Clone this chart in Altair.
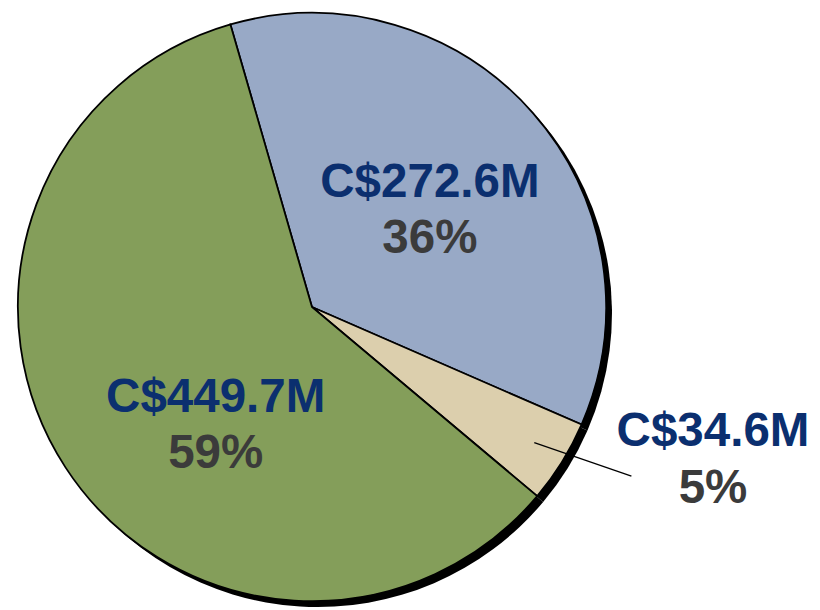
import math
import altair as alt
import pandas as pd

# ---- data ----
categories = ["Blue", "Beige", "Green"]
values = [272.6, 34.6, 449.7]
value_labels = ["C$272.6M", "C$34.6M", "C$449.7M"]
pct_labels = ["36%", "5%", "59%"]
slice_order = [0, 1, 2]

# ---- styles / layout ----
slice_colors = ["#98A9C6", "#DCCFAD", "#849E5A"]
VALUE_COLOR = "#0B2F6F"
PCT_COLOR = "#3B3B3B"
FONT = "Liberation Sans"
FSIZE = 48
CX, CY, R = 307, 299, 297
SHADOW_OFF = 6
START = math.radians(-16.1) + 2 * math.pi
# label placement per slice: (radius px, theta offset deg)
label_place = {"Blue": (145, 6.5), "Green": (166, -21.1), "Beige": (439, -9.1)}
leader = {"cat": "Beige", "r1": 263, "a1": -0.4, "r2": 365, "a2": -3.9}

df = pd.DataFrame({"cat": categories, "value": values, "order": slice_order,
                   "label": value_labels, "pct": pct_labels})

theta_scale = alt.Scale(range=[START, START + 2 * math.pi])
color_scale = alt.Scale(domain=categories, range=slice_colors)

shadow = alt.Chart(df).mark_arc(radius=R, color="black").encode(
    theta=alt.Theta("value:Q", stack=True, scale=theta_scale),
    order=alt.Order("order:Q"),
    x=alt.value(CX + SHADOW_OFF), y=alt.value(CY + SHADOW_OFF),
)

pie = alt.Chart(df).mark_arc(radius=R, stroke="black", strokeWidth=1.8).encode(
    theta=alt.Theta("value:Q", stack=True, scale=theta_scale),
    color=alt.Color("cat:N", scale=color_scale, legend=None),
    order=alt.Order("order:Q"),
    x=alt.value(CX), y=alt.value(CY),
)

base = (alt.Chart(df)
        .transform_window(cum="sum(value)", sort=[alt.SortField("order")], frame=[None, 0])
        .transform_joinaggregate(total="sum(value)")
        .transform_calculate(mid="datum.cum - datum.value / 2")
        .transform_calculate(ang=f"{START} + 2 * PI * datum.mid / datum.total"))

layers = [shadow, pie]
for cat in categories:
    r, off = label_place[cat]
    sub = base.transform_filter(alt.datum.cat == cat)
    for field, color, dy in [("label", VALUE_COLOR, -28.5), ("pct", PCT_COLOR, 28.5)]:
        layers.append(sub.mark_text(radius=r, thetaOffset=math.radians(off), dy=dy,
                                    font=FONT, fontSize=FSIZE, fontWeight="bold",
                                    color=color, align="center", baseline="alphabetic").encode(
            theta=alt.Theta("mid:Q", stack=None, scale=theta_scale),
            text=alt.Text(f"{field}:N"),
            x=alt.value(CX), y=alt.value(CY),
        ))

lead = (base.transform_filter(alt.datum.cat == leader["cat"])
        .transform_calculate(
            lx1=f"{CX} + {leader['r1']} * sin(datum.ang + {math.radians(leader['a1'])})",
            ly1=f"{CY} - {leader['r1']} * cos(datum.ang + {math.radians(leader['a1'])})",
            lx2=f"{CX} + {leader['r2']} * sin(datum.ang + {math.radians(leader['a2'])})",
            ly2=f"{CY} - {leader['r2']} * cos(datum.ang + {math.radians(leader['a2'])})")
        .mark_rule(color="black", strokeWidth=1.3)
        .encode(x=alt.X("lx1:Q", scale=None, axis=None), y=alt.Y("ly1:Q", scale=None, axis=None),
                x2="lx2:Q", y2="ly2:Q"))
layers.append(lead)

chart = alt.layer(*layers).properties(
    width=812, height=602, padding=0, autosize="none"
).configure_view(stroke=None)

chart.save("out.html", embed_options={"renderer": "svg", "actions": False})
